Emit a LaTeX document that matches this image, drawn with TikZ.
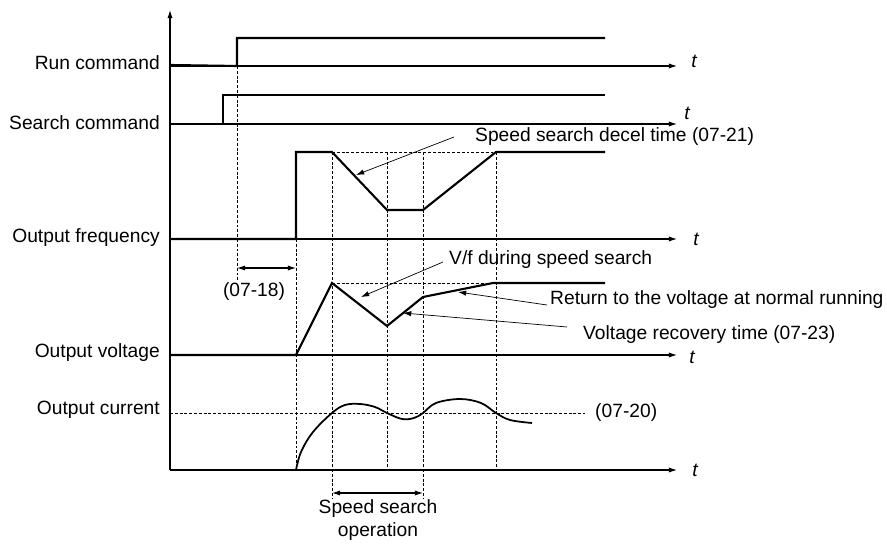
\documentclass[tikz,border=0pt]{standalone}
\usepackage{fontspec}
\setmainfont{Liberation Sans}
\usepackage{tikz}
\usetikzlibrary{arrows.meta, positioning, calc}
\tikzset{
    % Text styles
    siglabel/.style={
        anchor=east,
        inner sep=0pt,
        font=\fontsize{16.4}{19}\selectfont
    },
    notetext/.style={
        anchor=west,
        inner sep=0pt,
        font=\fontsize{16.4}{19}\selectfont
    },
    tlabel/.style={
        inner sep=0pt,
        font=\fontsize{16.4}{19}\selectfont\itshape
    },
    % Line styles
    axisline/.style={
        -{Latex[length=7pt,width=4.5pt]},
        line width=0.9pt
    },
    signal/.style={
        line width=1.8pt
    },
    guide/.style={
        line width=0.6pt,
        dash pattern=on 2.5pt off 1.6pt
    },
    noteline/.style={
        -{Latex[length=7pt,width=4.5pt]},
        line width=0.6pt
    },
    spanarrow/.style={
        {Latex[length=7pt,width=4.5pt]}-{Latex[length=7pt,width=4.5pt]},
        line width=0.9pt
    }
}

\begin{document}
\begin{tikzpicture}[x=0.03cm, y=-0.03cm]
    \useasboundingbox (0,0) rectangle (887,545);

    % Signal names
    \node[siglabel] (run) at (160,63) {Run command};
    \node[siglabel] (search) at (160,123) {Search command};
    \node[siglabel] (freq) at (160,238) {Output frequency};
    \node[siglabel] (volt) at (160,353) {Output voltage};
    \node[siglabel] (curr) at (160,410) {Output current};

    % Time axes
    \coordinate (o) at (170,470);
    \coordinate (top) at (170,10);
    \draw[axisline] (o) -- (top);
    \foreach \y/\ty/\tx [count=\i] in {66/61/694, 124/113/687, 239/239/696, 355/357/692, 470/470/695} {
        \coordinate (ax\i) at (170,\y);
        \coordinate (axend\i) at (677,\y);
        \draw[axisline] (ax\i) -- (axend\i);
        \node[tlabel] (t\i) at (\tx,\ty) {t};
    }

    % Guide lines
    \draw[guide] (237,66) -- (237,282);
    \draw[guide] (296,239) -- (296,470);
    \draw[guide] (332,152) -- (332,498);
    \draw[guide] (387,152) -- (387,470);
    \draw[guide] (423,152) -- (423,498);
    \draw[guide] (496,152) -- (496,470);
    \draw[guide] (332,152) -- (496,152);
    \draw[guide] (332,283) -- (496,283);
    \draw[guide] (170,413) -- (585,413);

    % Waveforms
    \draw[signal] (170,65) -- (237,66) -- (237,38) -- (605,38);
    \draw[signal] (170,124) -- (223,124) -- (223,95) -- (605,95);
    \draw[signal] (170,239) -- (296,239) -- (296,152) -- (332,152)
        -- (387,210) -- (423,210) -- (496,152) -- (605,152);
    \draw[signal] (170,355) -- (296,355) -- (332,283) -- (387,326)
        -- (423,297) -- (493,283) -- (605,283);
    \draw[line width=1.5pt] plot[smooth, tension=0.6] coordinates {
        (296,470) (301,452) (313,432) (332,413) (345,405) (360,404)
        (375,407) (387,413) (402,419) (414,418) (423,413) (436,403)
        (460,399) (481,403) (496,413) (510,420) (532,423)};

    % Notes
    \node[notetext] (decel) at (475,137) {Speed search decel time (07-21)};
    \coordinate (decelpt) at (356,175);
    \draw[noteline] ([xshift=-0.63cm]decel.west) -- (decelpt);

    \node[notetext] (vf) at (449,260) {V/f during speed search};
    \coordinate (vfpt) at (361,297);
    \draw[noteline] ([xshift=-0.18cm, yshift=-0.06cm]vf.west) -- (vfpt);

    \node[notetext] (ret) at (550,300) {Return to the voltage at normal running};
    \coordinate (retpt) at (458,292);
    \draw[noteline] ([xshift=-0.09cm, yshift=-0.15cm]ret.west) -- (retpt);

    \node[notetext] (recov) at (583,335) {Voltage recovery time (07-23)};
    \coordinate (recovpt) at (403,313);
    \draw[noteline] ([xshift=-0.48cm, yshift=0.24cm]recov.west) -- (recovpt);

    \node[notetext] (level) at (595,413) {(07-20)};

    % Time spans
    \coordinate (wa) at (237,268);
    \coordinate (wb) at (296,268);
    \draw[spanarrow] (wa) -- (wb);
    \node[font=\fontsize{16.4}{19}\selectfont, inner sep=0pt] (wait) at (254,292) {(07-18)};

    \coordinate (sa) at (332,493);
    \coordinate (sb) at (423,493);
    \draw[spanarrow] (sa) -- (sb);
    \node[font=\fontsize{16.4}{19}\selectfont, align=center, inner sep=0pt] (oper) at (378,520)
        {Speed search\\operation};
\end{tikzpicture}
\end{document}
